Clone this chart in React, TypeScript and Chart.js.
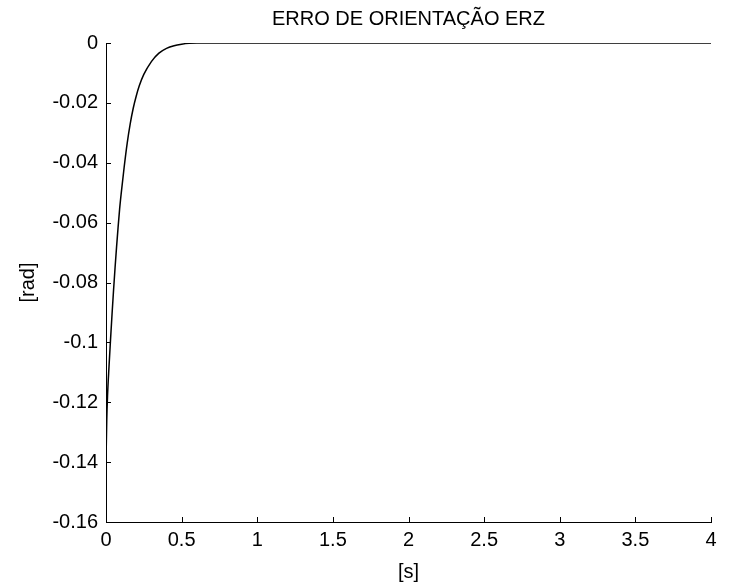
import React, { useEffect, useRef } from "react";
import { Chart, registerables } from "chart.js";

Chart.register(...registerables);

const chartTitle = "ERRO DE ORIENTAÇÃO ERZ";
const xAxisTitle = "[s]";
const yAxisTitle = "[rad]";

const timeSeconds = [0, 0.005, 0.01, 0.02, 0.03, 0.04, 0.05, 0.06, 0.07, 0.08, 0.09, 0.1, 0.12, 0.14, 0.16, 0.18, 0.2, 0.22, 0.25, 0.3, 0.35, 0.4, 0.45, 0.5, 0.55, 0.6, 4];
const erzValues = [-0.14, -0.126, -0.118, -0.108, -0.099, -0.0905, -0.0825, -0.075, -0.068, -0.0615, -0.0555, -0.0505, -0.0415, -0.0335, -0.027, -0.0218, -0.0177, -0.0143, -0.0105, -0.0062, -0.0034, -0.0018, -0.0009, -0.0004, -0.0001, 0, 0];

const xMin = 0;
const xMax = 4;
const xStep = 0.5;
const yMin = -0.16;
const yMax = 0;
const yStep = 0.02;

const FONT = "'Liberation Sans', Arial, Helvetica, sans-serif";
const FONT_SIZE = 20;

const inwardTicks = {
  id: "inwardTicks",
  afterDraw(chart: any) {
    const { ctx, chartArea } = chart;
    const xs = chart.scales.x;
    const ys = chart.scales.y;
    const len = 5;
    ctx.save();
    ctx.strokeStyle = "#000";
    ctx.lineWidth = 1;
    ctx.beginPath();
    xs.ticks.forEach((t: any) => {
      const px = Math.round(xs.getPixelForValue(t.value)) + 0.5;
      ctx.moveTo(px, chartArea.bottom);
      ctx.lineTo(px, chartArea.bottom - len);
    });
    ys.ticks.forEach((t: any) => {
      const py = Math.round(ys.getPixelForValue(t.value)) + 0.5;
      ctx.moveTo(chartArea.left, py);
      ctx.lineTo(chartArea.left + len, py);
    });
    ctx.stroke();
    ctx.restore();
  },
};

export default function App() {
  const canvasRef = useRef<HTMLCanvasElement | null>(null);

  useEffect(() => {
    if (!canvasRef.current) return;
    const points = timeSeconds.map((t, i) => ({ x: t, y: erzValues[i] }));
    const fmt = (v: any) => String(Math.round(Number(v) * 1000) / 1000);
    const chart = new Chart(canvasRef.current, {
      type: "line",
      data: {
        datasets: [
          {
            data: points,
            borderColor: "#000",
            borderWidth: 1.5,
            pointRadius: 0,
            fill: false,
            cubicInterpolationMode: "monotone",
          },
        ],
      },
      options: {
        animation: false,
        responsive: true,
        maintainAspectRatio: false,
        layout: { padding: { left: 0, right: 39, top: 0, bottom: 0 } },
        plugins: {
          legend: { display: false },
          tooltip: { enabled: false },
          title: {
            display: true,
            text: chartTitle,
            fullSize: false,
            color: "#000",
            font: { family: FONT, size: FONT_SIZE, weight: "normal" },
            padding: { top: 7, bottom: 12 },
          },
        },
        scales: {
          x: {
            type: "linear",
            min: xMin,
            max: xMax,
            grid: { display: true, drawOnChartArea: false, drawTicks: false },
            border: { display: true, color: "#000", width: 1 },
            ticks: {
              stepSize: xStep,
              color: "#000",
              padding: 6,
              maxRotation: 0,
              font: { family: FONT, size: FONT_SIZE },
              callback: (v: any) => fmt(v),
            },
            title: {
              display: true,
              text: xAxisTitle,
              color: "#000",
              font: { family: FONT, size: FONT_SIZE },
              padding: { top: 0, bottom: 1 },
            },
            afterFit: (s: any) => {
              s.height = 63;
            },
          },
          y: {
            type: "linear",
            min: yMin,
            max: yMax,
            grid: { display: true, drawOnChartArea: false, drawTicks: false },
            border: { display: true, color: "#000", width: 1 },
            ticks: {
              stepSize: yStep,
              color: "#000",
              padding: 8,
              font: { family: FONT, size: FONT_SIZE },
              callback: (v: any) => fmt(v),
            },
            title: {
              display: true,
              text: yAxisTitle,
              color: "#000",
              font: { family: FONT, size: FONT_SIZE },
              padding: { top: 16, bottom: 0 },
            },
            afterFit: (s: any) => {
              s.width = 106;
            },
          },
        },
      },
      plugins: [inwardTicks],
    });
    return () => chart.destroy();
  }, []);

  return (
    <div style={{ position: "absolute", left: 0, top: 0, width: 750, height: 585, background: "#fff" }}>
      <canvas ref={canvasRef} />
    </div>
  );
}
